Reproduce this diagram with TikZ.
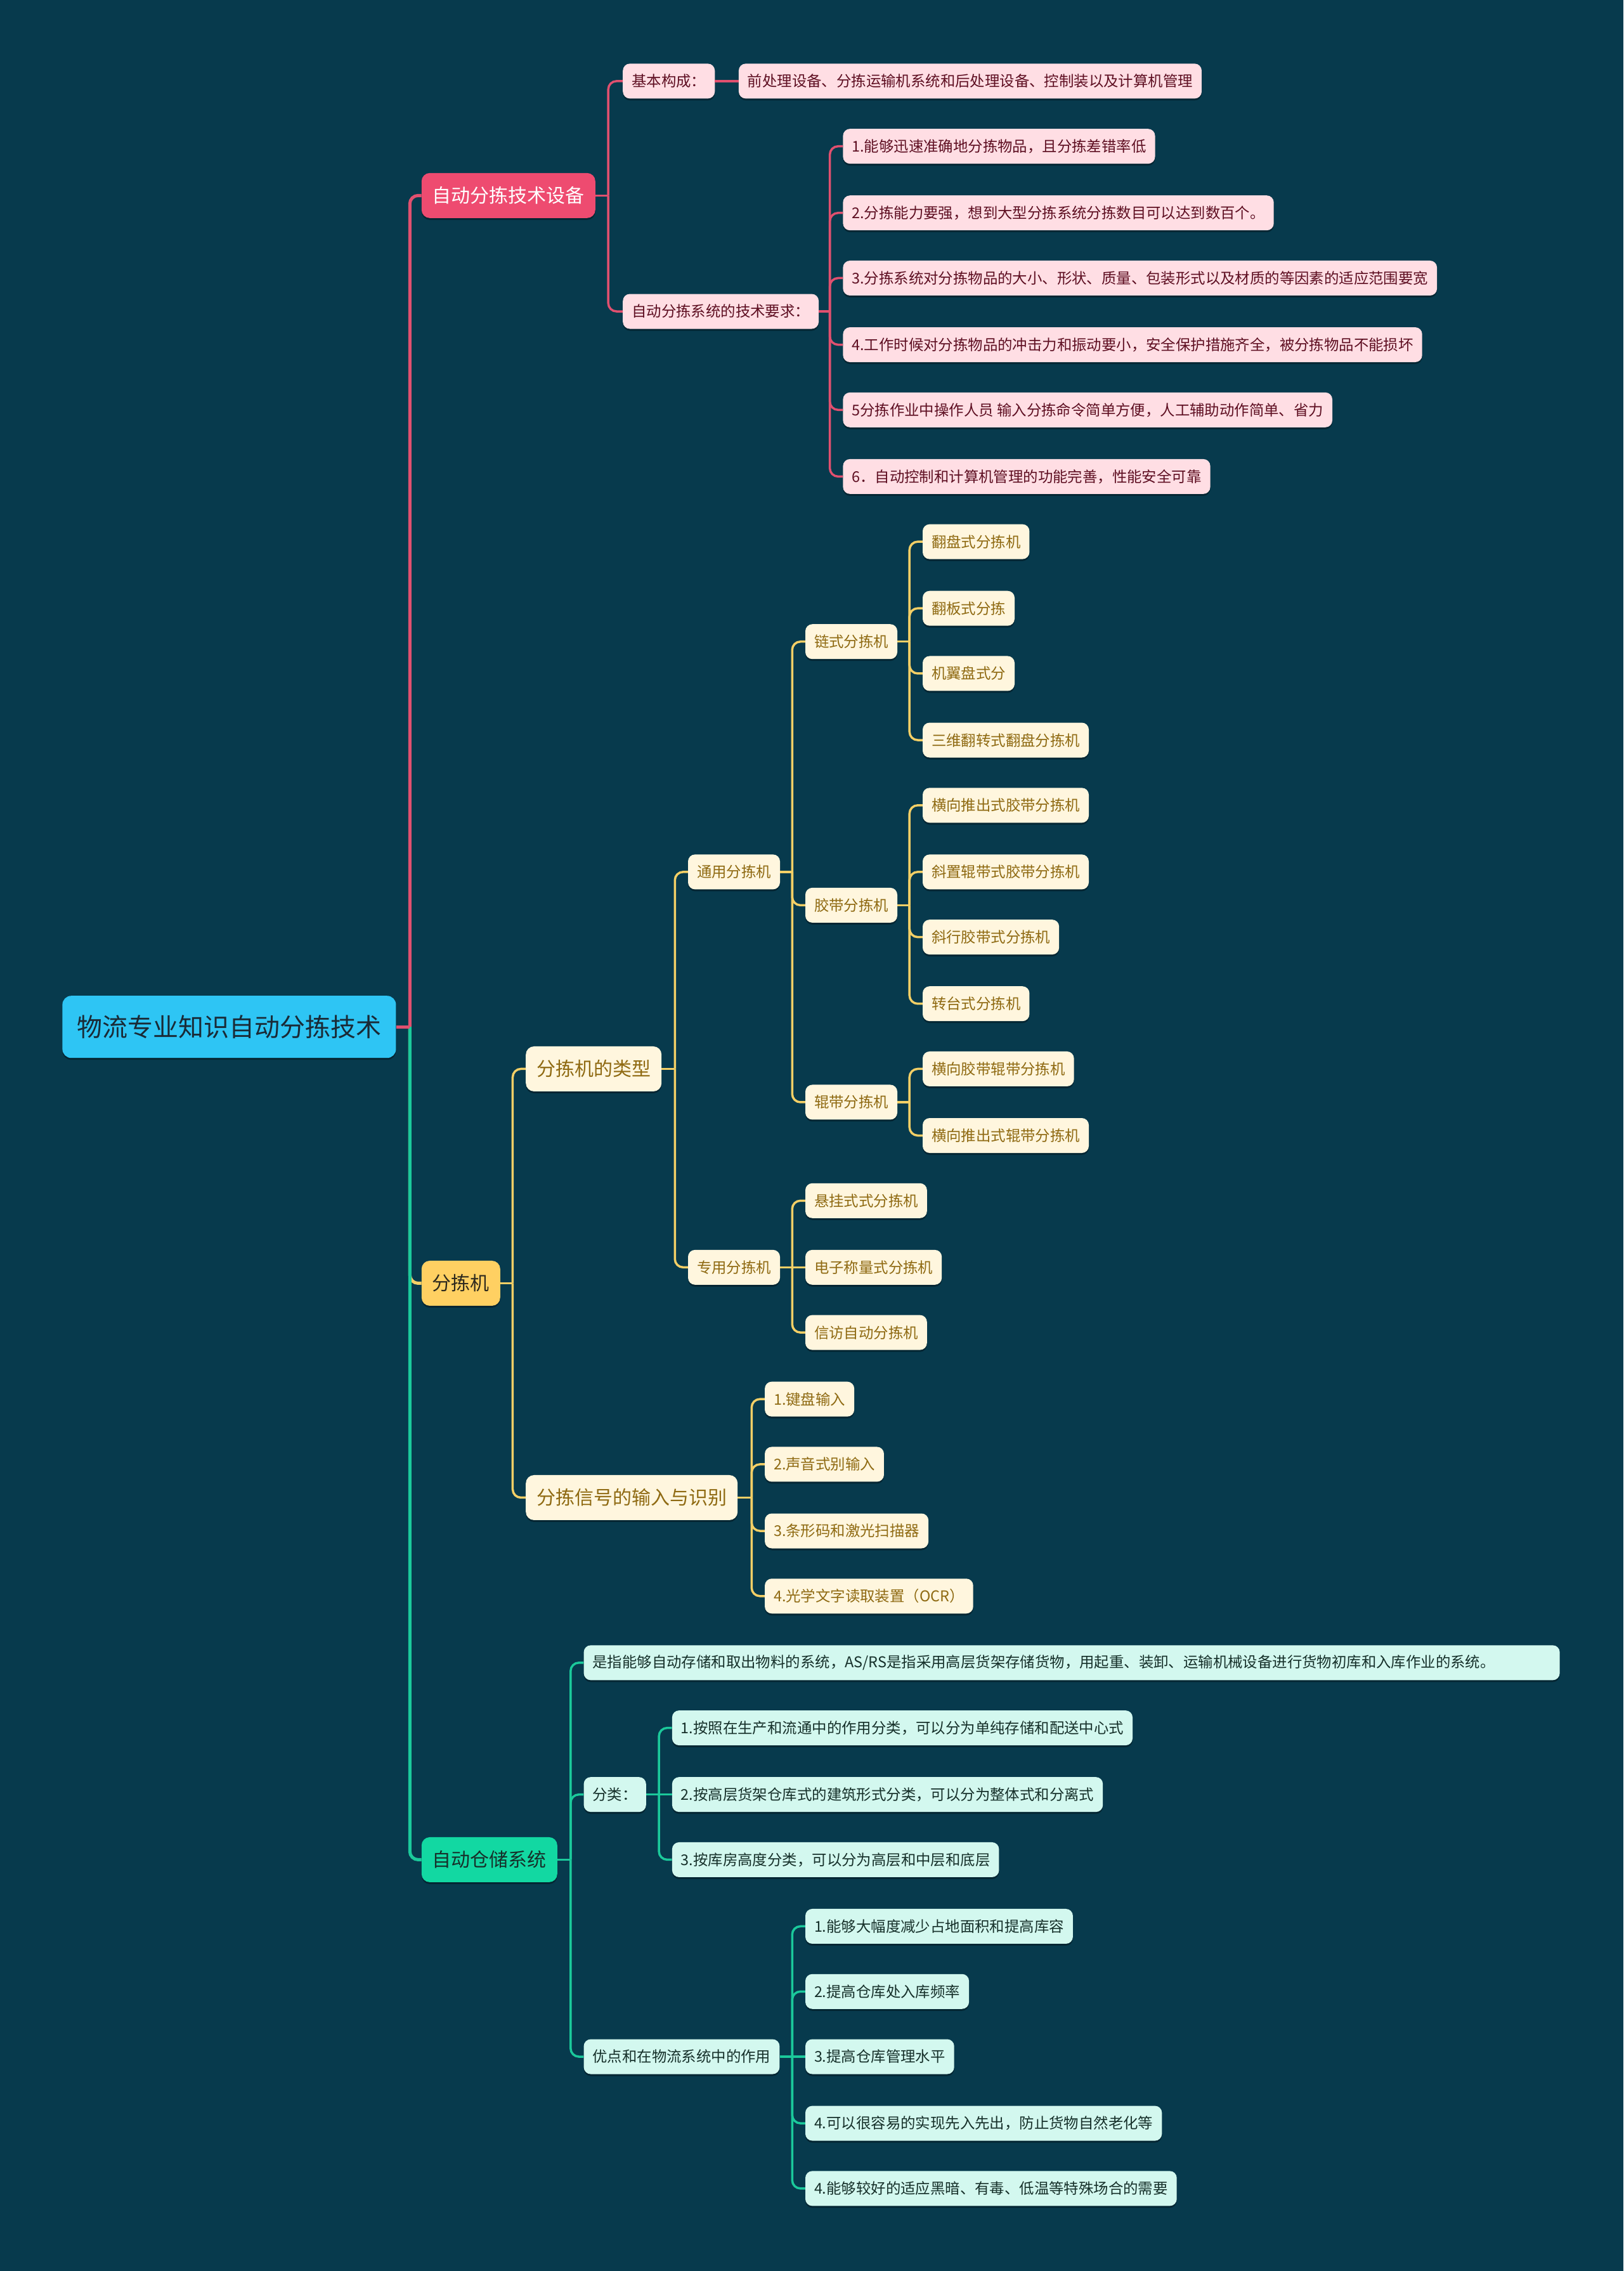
\documentclass[tikz,border=0pt]{standalone}
\usepackage{fontspec}
\setmainfont{Noto Sans CJK SC}
\usetikzlibrary{shadows}
\definecolor{bg}{HTML}{073A4D}
\definecolor{rootF}{HTML}{2EC5F4}
\definecolor{rootT}{HTML}{1A2A36}
\definecolor{pinkF}{HTML}{EE4B70}
\definecolor{pinkL}{HTML}{FFDEE4}
\definecolor{pinkT}{HTML}{5E0F22}
\definecolor{pinkW}{HTML}{E0506F}
\definecolor{yelF}{HTML}{FFD062}
\definecolor{yelL}{HTML}{FFF6DE}
\definecolor{yelT}{HTML}{8F6A12}
\definecolor{yelW}{HTML}{F3CF66}
\definecolor{yelD}{HTML}{2E2A1E}
\definecolor{grnF}{HTML}{12D8A2}
\definecolor{grnL}{HTML}{D3F8EF}
\definecolor{grnT}{HTML}{16302A}
\definecolor{grnW}{HTML}{1BC99B}
\definecolor{shd}{HTML}{031E29}
\newcommand\mmbranch[4]{%
  \draw[#1] (#2.east) -- (#2.east -| #3);
  \draw[#1,rounded corners=13pt] (#2.east -| #3) |- (#4.west);
}
\begin{document}
\begin{tikzpicture}[x=2.2837pt,y=-2.2837pt,
  sh/.style={drop shadow={shadow xshift=0pt, shadow yshift=-3pt, fill=shd, opacity=0.7}},
  base/.style={sh, rounded corners=11pt, inner xsep=14pt, inner ysep=0pt, minimum height=55pt, anchor=west, font=\fontsize{23.4}{23.4}\selectfont},
  big/.style={sh, rounded corners=13pt, inner xsep=17pt, inner ysep=0pt, minimum height=71pt, anchor=west, font=\fontsize{30}{30}\selectfont},
  rootbox/.style={sh, rounded corners=14pt, inner xsep=23pt, inner ysep=0pt, minimum height=98pt, anchor=west, font=\fontsize{40}{40}\selectfont, fill=rootF, text=rootT},
  pinkmain/.style={big, fill=pinkF, text=white},
  pinksub/.style={base, fill=pinkL, text=pinkT},
  yelmain/.style={big, fill=yelF, text=yelD},
  yelbig/.style={big, fill=yelL, text=yelT},
  yelsub/.style={base, fill=yelL, text=yelT},
  grnmain/.style={big, fill=grnF, text=grnT},
  grnsub/.style={base, fill=grnL, text=grnT},
  trunkP/.style={draw=pinkW, line width=5pt},
  trunkY/.style={draw=yelW, line width=5pt},
  trunkG/.style={draw=grnW, line width=5pt},
  lineP/.style={draw=pinkW, line width=3.5pt},
  lineY/.style={draw=yelW, line width=3.5pt},
  lineG/.style={draw=grnW, line width=3.5pt}
]
\useasboundingbox (0,0) rectangle (1121,1568);
\fill[bg] (0,0) rectangle (1121,1568);

% bracket x positions
\coordinate (vR) at (283,0);
\coordinate (vA) at (420,0);
\coordinate (vA2) at (573,0);
\coordinate (vB) at (354,0);
\coordinate (vB1) at (466,0);
\coordinate (vB11) at (547,0);
\coordinate (vB11x) at (628,0);
\coordinate (vB12) at (547,0);
\coordinate (vB2) at (519,0);
\coordinate (vC) at (394,0);
\coordinate (vC2) at (455,0);
\coordinate (vC3) at (547,0);

% root
\node[rootbox] (root) at (43,709) {物流专业知识自动分拣技术};

% ===== A =====
\node[pinkmain] (A) at (291,135) {自动分拣技术设备};
\node[pinksub] (A1) at (430,56) {基本构成：};
\node[pinksub] (A1a) at (510,56) {前处理设备、分拣运输机系统和后处理设备、控制装以及计算机管理};
\node[pinksub] (A2) at (430,215) {自动分拣系统的技术要求：};
\node[pinksub] (A2a) at (582,101) {1.能够迅速准确地分拣物品，且分拣差错率低};
\node[pinksub] (A2b) at (582,147) {2.分拣能力要强，想到大型分拣系统分拣数目可以达到数百个。};
\node[pinksub] (A2c) at (582,192) {3.分拣系统对分拣物品的大小、形状、质量、包装形式以及材质的等因素的适应范围要宽};
\node[pinksub] (A2d) at (582,238) {4.工作时候对分拣物品的冲击力和振动要小，安全保护措施齐全，被分拣物品不能损坏};
\node[pinksub] (A2e) at (582,283) {5分拣作业中操作人员 输入分拣命令简单方便，人工辅助动作简单、省力};
\node[pinksub] (A2f) at (582,329) {6．自动控制和计算机管理的功能完善，性能安全可靠};

% ===== B =====
\node[yelmain] (B) at (291,886) {分拣机};
\node[yelbig] (B1) at (363,738) {分拣机的类型};
\node[yelsub] (B11) at (475,602) {通用分拣机};
\node[yelsub] (B111) at (556,443) {链式分拣机};
\node[yelsub] (B111a) at (637,374) {翻盘式分拣机};
\node[yelsub] (B111b) at (637,420) {翻板式分拣};
\node[yelsub] (B111c) at (637,465) {机翼盘式分};
\node[yelsub] (B111d) at (637,511) {三维翻转式翻盘分拣机};
\node[yelsub] (B112) at (556,625) {胶带分拣机};
\node[yelsub] (B112a) at (637,556) {横向推出式胶带分拣机};
\node[yelsub] (B112b) at (637,602) {斜置辊带式胶带分拣机};
\node[yelsub] (B112c) at (637,647) {斜行胶带式分拣机};
\node[yelsub] (B112d) at (637,693) {转台式分拣机};
\node[yelsub] (B113) at (556,761) {辊带分拣机};
\node[yelsub] (B113a) at (637,738) {横向胶带辊带分拣机};
\node[yelsub] (B113b) at (637,784) {横向推出式辊带分拣机};
\node[yelsub] (B12) at (475,875) {专用分拣机};
\node[yelsub] (B12a) at (556,829) {悬挂式式分拣机};
\node[yelsub] (B12b) at (556,875) {电子称量式分拣机};
\node[yelsub] (B12c) at (556,920) {信访自动分拣机};
\node[yelbig] (B2) at (363,1034) {分拣信号的输入与识别};
\node[yelsub] (B2a) at (528,966) {1.键盘输入};
\node[yelsub] (B2b) at (528,1011) {2.声音式别输入};
\node[yelsub] (B2c) at (528,1057) {3.条形码和激光扫描器};
\node[yelsub] (B2d) at (528,1102) {4.光学文字读取装置（OCR）};

% ===== C =====
\node[grnmain] (C) at (291,1284) {自动仓储系统};
\node[grnsub, minimum width=1539pt, align=left, text width=1511pt] (C1) at (403,1148) {是指能够自动存储和取出物料的系统，AS/RS是指采用高层货架存储货物，用起重、装卸、运输机械设备进行货物初库和入库作业的系统。};
\node[grnsub] (C2) at (403,1239) {分类：};
\node[grnsub] (C2a) at (464,1193) {1.按照在生产和流通中的作用分类，可以分为单纯存储和配送中心式};
\node[grnsub] (C2b) at (464,1239) {2.按高层货架仓库式的建筑形式分类，可以分为整体式和分离式};
\node[grnsub] (C2c) at (464,1284) {3.按库房高度分类，可以分为高层和中层和底层};
\node[grnsub] (C3) at (403,1420) {优点和在物流系统中的作用};
\node[grnsub] (C3a) at (556,1330) {1.能够大幅度减少占地面积和提高库容};
\node[grnsub] (C3b) at (556,1375) {2.提高仓库处入库频率};
\node[grnsub] (C3c) at (556,1420) {3.提高仓库管理水平};
\node[grnsub] (C3d) at (556,1466) {4.可以很容易的实现先入先出，防止货物自然老化等};
\node[grnsub] (C3e) at (556,1511) {4.能够较好的适应黑暗、有毒、低温等特殊场合的需要};

% ===== connectors =====
\mmbranch{trunkY}{root}{vR}{B}
\mmbranch{trunkG}{root}{vR}{C}
\mmbranch{trunkP}{root}{vR}{A}

\foreach \c in {A1,A2} {\mmbranch{lineP}{A}{vA}{\c}}
\draw[lineP] (A1.east) -- (A1a.west);
\foreach \c in {A2a,A2b,A2c,A2d,A2e,A2f} {\mmbranch{lineP}{A2}{vA2}{\c}}

\foreach \c in {B1,B2} {\mmbranch{lineY}{B}{vB}{\c}}
\foreach \c in {B11,B12} {\mmbranch{lineY}{B1}{vB1}{\c}}
\foreach \c in {B111,B112,B113} {\mmbranch{lineY}{B11}{vB11}{\c}}
\foreach \c in {B111a,B111b,B111c,B111d} {\mmbranch{lineY}{B111}{vB11x}{\c}}
\foreach \c in {B112a,B112b,B112c,B112d} {\mmbranch{lineY}{B112}{vB11x}{\c}}
\foreach \c in {B113a,B113b} {\mmbranch{lineY}{B113}{vB11x}{\c}}
\foreach \c in {B12a,B12c} {\mmbranch{lineY}{B12}{vB12}{\c}}
\draw[lineY] (B12.east) -- (B12b.west);
\foreach \c in {B2a,B2b,B2c,B2d} {\mmbranch{lineY}{B2}{vB2}{\c}}

\foreach \c in {C1,C2,C3} {\mmbranch{lineG}{C}{vC}{\c}}
\foreach \c in {C2a,C2c} {\mmbranch{lineG}{C2}{vC2}{\c}}
\draw[lineG] (C2.east) -- (C2b.west);
\foreach \c in {C3a,C3b,C3d,C3e} {\mmbranch{lineG}{C3}{vC3}{\c}}
\draw[lineG] (C3.east) -- (C3c.west);
\end{tikzpicture}
\end{document}
